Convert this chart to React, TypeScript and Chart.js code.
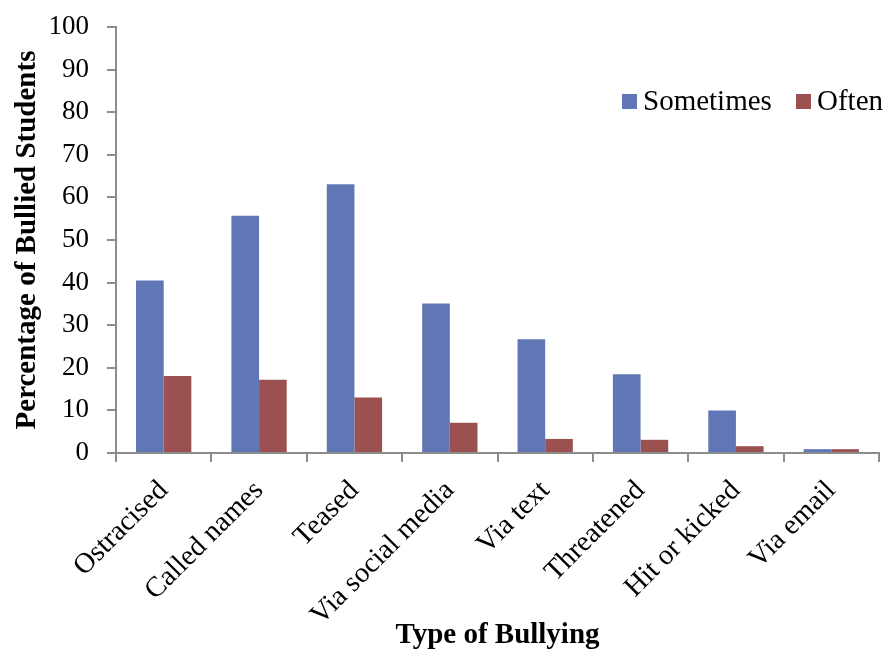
import React, { useEffect, useRef } from "react";
import { Chart, registerables } from "chart.js";

Chart.register(...registerables);

const categories = [
  "Ostracised",
  "Called names",
  "Teased",
  "Via social media",
  "Via text",
  "Threatened",
  "Hit or kicked",
  "Via email",
];
const sometimes = [40.5, 55.7, 63.1, 35.1, 26.7, 18.5, 10.0, 0.9];
const often = [18.1, 17.2, 13.0, 7.1, 3.3, 3.1, 1.6, 0.9];

const FONT = "'Liberation Serif', 'Times New Roman', serif";
const AXIS = "#8c8c8c";

const legendPlugin = {
  id: "insideLegend",
  afterDraw(chart: any) {
    const ctx = chart.ctx;
    const ds = chart.data.datasets;
    const items = [
      { x: 622, label: ds[0].label, color: ds[0].backgroundColor },
      { x: 796, label: ds[1].label, color: ds[1].backgroundColor },
    ];
    ctx.save();
    ctx.font = `29px ${FONT}`;
    ctx.textBaseline = "middle";
    ctx.textAlign = "left";
    const y = 101;
    for (const it of items) {
      ctx.fillStyle = it.color;
      ctx.fillRect(it.x, y - 7, 15, 15);
      ctx.fillStyle = "#000";
      ctx.fillText(it.label, it.x + 21, y + 1);
    }
    ctx.restore();
  },
};

export default function App() {
  const ref = useRef<HTMLCanvasElement | null>(null);
  useEffect(() => {
    if (!ref.current) return;
    const chart = new Chart(ref.current, {
      type: "bar",
      data: {
        labels: categories,
        datasets: [
          {
            label: "Sometimes",
            data: sometimes,
            backgroundColor: "#6176b4",
            categoryPercentage: 0.58,
            barPercentage: 1.0,
          },
          {
            label: "Often",
            data: often,
            backgroundColor: "#9c5151",
            categoryPercentage: 0.58,
            barPercentage: 1.0,
          },
        ],
      },
      options: {
        animation: false,
        responsive: false,
        maintainAspectRatio: false,
        layout: { padding: { top: 27, right: 7, left: 0, bottom: 0 } },
        plugins: {
          legend: { display: false },
          tooltip: { enabled: false },
        },
        scales: {
          x: {
            grid: {
              offset: true,
              drawOnChartArea: false,
              drawTicks: true,
              tickLength: 9,
              color: AXIS,
              lineWidth: 2,
            },
            border: { color: AXIS, width: 2 },
            ticks: {
              color: "#000",
              font: { family: FONT, size: 28.5 },
              maxRotation: 45,
              minRotation: 45,
              padding: 12,
            },
            title: {
              display: true,
              text: "Type of Bullying",
              color: "#000",
              font: { family: FONT, size: 29, weight: "bold", lineHeight: 1.0 },
              padding: { top: 0, bottom: 0 },
            },
            afterFit(scale: any) {
              scale.height = 197;
              scale.paddingLeft = 0;
              scale.paddingRight = 0;
            },
          },
          y: {
            min: 0,
            max: 100,
            ticks: {
              stepSize: 10,
              color: "#000",
              font: { family: FONT, size: 27 },
              padding: 18,
            },
            grid: {
              drawOnChartArea: false,
              drawTicks: true,
              tickLength: 9,
              color: AXIS,
              lineWidth: 2,
            },
            border: { color: AXIS, width: 2 },
            title: {
              display: true,
              text: "Percentage of Bullied Students",
              color: "#000",
              font: { family: FONT, size: 29, weight: "bold" },
              padding: { top: 10, bottom: 0 },
            },
            afterFit(scale: any) {
              scale.width = 116;
              scale.paddingTop = 0;
              scale.paddingBottom = 0;
            },
          },
        },
      },
      plugins: [legendPlugin],
    });
    return () => chart.destroy();
  }, []);
  return (
    <div style={{ position: "absolute", left: 0, top: 0, width: 886, height: 650, background: "#fff" }}>
      <canvas ref={ref} width={886} height={650} style={{ width: 886, height: 650 }} />
    </div>
  );
}
